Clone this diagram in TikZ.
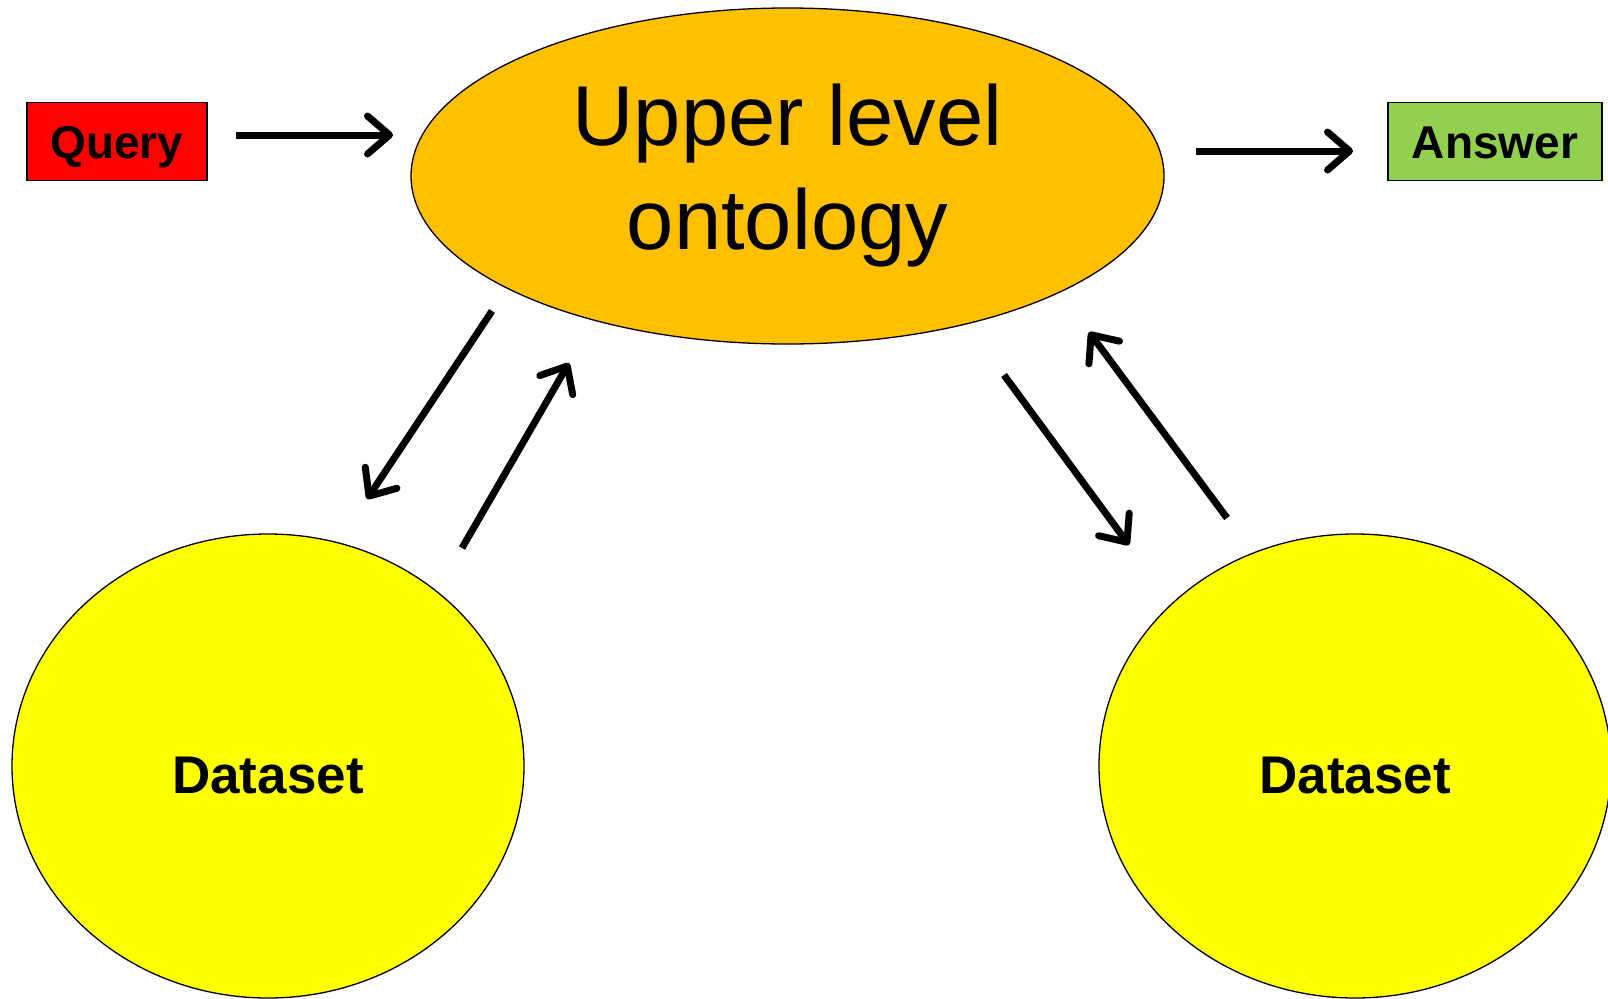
\documentclass[tikz,border=0pt]{standalone}
\usepackage{fontspec}
\setmainfont{Liberation Sans}
\usetikzlibrary{arrows.meta,shapes.geometric}
\definecolor{dsyellow}{RGB}{255,255,0}
\definecolor{ontoorange}{RGB}{255,192,0}
\definecolor{ansgreen}{RGB}{146,208,80}
\begin{document}
\begin{tikzpicture}[x=1pt,y=-1pt,
  conn/.style={line width=7pt,-{Straight Barb[length=22pt,width=38pt,round]}},
  boxnode/.style={draw=black,line width=1.3pt,minimum width=#1,minimum height=78pt,inner sep=0pt,text height=33pt,text depth=0pt,font=\bfseries\fontsize{46}{50}\selectfont},
  ellnode/.style={ellipse,draw=black,line width=1.3pt,inner sep=0pt},
  dsnode/.style={ellnode,fill=dsyellow,minimum width=512pt,minimum height=464pt,font=\bfseries\fontsize{53}{60}\selectfont}
]
\useasboundingbox (0,0) rectangle (1608,998);
\node[boxnode=180pt,fill=red] (query) at (117,141.5) {Query};
\node[boxnode=214pt,fill=ansgreen] (answer) at (1495,141.5) {Answer};
\node[ellnode,fill=ontoorange,minimum width=753pt,minimum height=336pt,align=center,font=\fontsize{85}{104}\selectfont] (onto) at (787.5,176) {Upper level\\ontology};
\node[dsnode] (ds1) at (268,766) {\raisebox{-27pt}[0pt][0pt]{Dataset}};
\node[dsnode] (ds2) at (1355,766) {\raisebox{-27pt}[0pt][0pt]{Dataset}};
% arrow end points
\coordinate (q1) at (236,135);
\coordinate (q2) at (393,135);
\coordinate (a1) at (1196,151);
\coordinate (a2) at (1353,151);
\coordinate (l1) at (492,311);
\coordinate (l2) at (367,499);
\coordinate (l3) at (462,548);
\coordinate (l4) at (569,363);
\coordinate (r1) at (1004,375);
\coordinate (r2) at (1129,545);
\coordinate (r3) at (1227,518);
\coordinate (r4) at (1089,332);
\draw[conn] (q1) -- (q2);
\draw[conn] (a1) -- (a2);
\draw[conn] (l1) -- (l2);
\draw[conn] (l3) -- (l4);
\draw[conn] (r1) -- (r2);
\draw[conn] (r3) -- (r4);
\end{tikzpicture}
\end{document}
